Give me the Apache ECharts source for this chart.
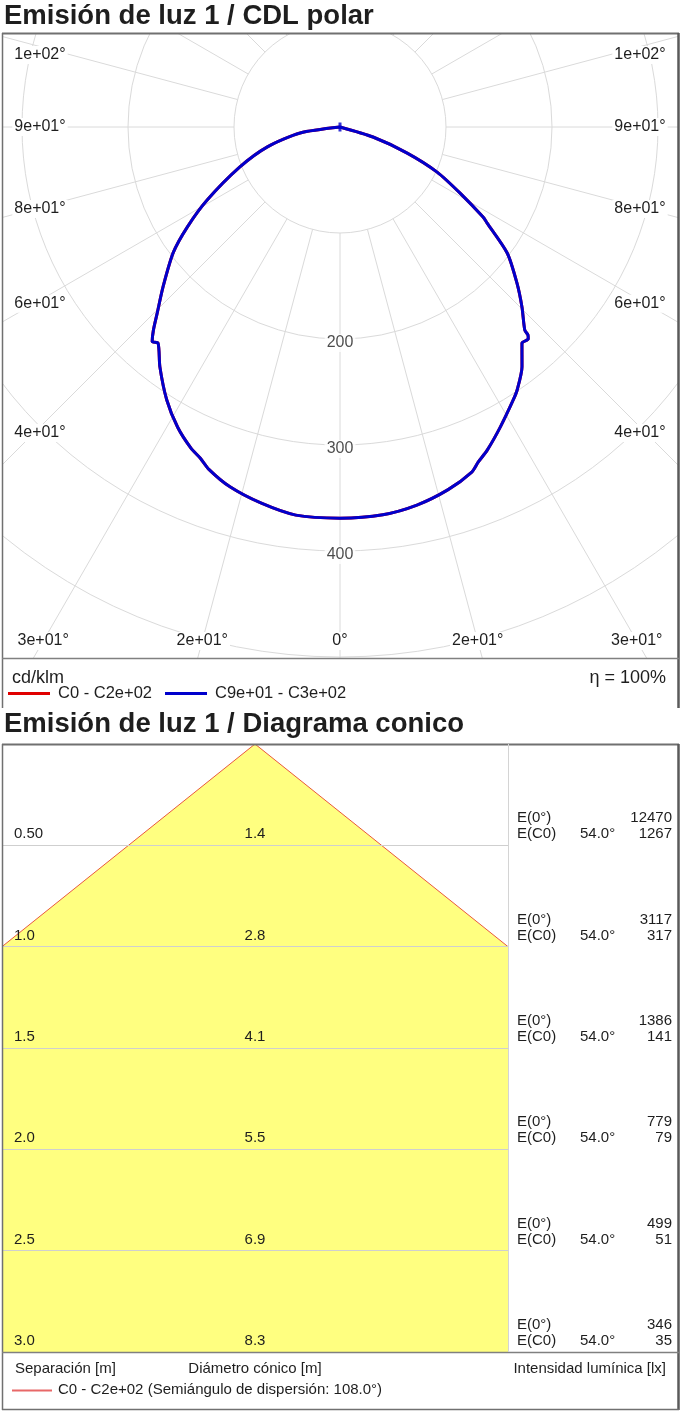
<!DOCTYPE html>
<html><head><meta charset="utf-8">
<script src="https://cdn.jsdelivr.net/npm/echarts/dist/echarts.min.js"></script>
<style>html,body{margin:0;padding:0;background:#fff}#c{width:681px;height:1422px}</style>
</head><body><div id="c"></div>
<script>
// ---------------- DATA ----------------
// Polar curve, C90 - C270 plane: gamma (deg from nadir) and intensity (cd/klm)
const leftGamma  = [90, 81.5, 74.7, 68.2, 61.2, 56.8, 53.0, 47.9, 44.5, 42.6, 41.2, 40.1, 36.9, 32.4, 28.4, 24.9, 22.9, 20.9, 17.0, 11.9, 6.5, 0];
const leftI      = [0, 38, 71, 102, 143, 172, 197, 225, 246, 260, 269, 266.5, 283, 305, 322, 334, 339, 346, 355, 362.5, 368.5, 369];
const rightGamma = [0, 6.3, 11.5, 16.6, 20.9, 22.4, 24.5, 28.1, 32.4, 34.0, 37.2, 40.1, 41.6, 42.1, 42.3, 45.3, 48.6, 53.0, 56.9, 57.8, 61.2, 65.1, 68.8, 73.1, 90];
const rightI     = [369, 368, 364, 357, 348.5, 342, 335, 321, 305, 299, 284, 266.5, 267.5, 264.5, 259, 241.5, 222.5, 197.5, 165.5, 159.5, 129, 101, 68, 32.5, 0];
// C0 - C180 plane is hidden under the C90 - C270 curve (identical values)
const seriesNames = ['C0 - C2e+02', 'C9e+01 - C3e+02'];
const seriesColors = ['#e00000', '#0000cc'];
const angleTicks = [0, 15, 30, 45, 60, 75, 90, 105];
const angleTickLabels = ['0°', '2e+01°', '3e+01°', '4e+01°', '6e+01°', '8e+01°', '9e+01°', '1e+02°'];
const ringLabels = [200, 300, 400];
const unitLabel = 'cd/klm';
const etaLabel = 'η = 100%';

// Cone diagram
const heights = [0.5, 1.0, 1.5, 2.0, 2.5, 3.0];
const heightLabels = ['0.50', '1.0', '1.5', '2.0', '2.5', '3.0'];
const diameterLabels = ['1.4', '2.8', '4.1', '5.5', '6.9', '8.3'];
const e0 = [12470, 3117, 1386, 779, 499, 346];
const eC0 = [1267, 317, 141, 79, 51, 35];
const halfAngle = 54.0;
const coneLegend = 'C0 - C2e+02 (Semiángulo de dispersión: 108.0°)';

// ---------------- LAYOUT ----------------
const FONT = '"Liberation Sans", Arial, Helvetica, sans-serif';
const TXT = '#1e1e1e';
const CX = 340, CY = 127, R_IN = 106, R_OUT = 636;
const BOX1 = {x: 2, y: 33, w: 677, div: 658, bottom: 708};
const BOX2 = {x: 2, y: 744, w: 677, div: 1352, bottom: 1410, split: 508};
const GRIDC = '#dadada';

const chart = echarts.init(document.getElementById('c'), null, {renderer: 'canvas', width: 681, height: 1422});

function curve(gs, is, left) {
  return gs.map((g, k) => [is[k], left ? 360 - g : g]);
}
const curveData = curve(leftGamma, leftI, true).concat(curve(rightGamma, rightI, false));

// angle tick labels placed along their spokes, just inside the frame
function labelPos(g, side) {
  const rad = g * Math.PI / 180, s = Math.sin(rad), c = Math.cos(rad);
  if (s > 1e-6 && (c <= 1e-6 || 306 / s < (641 - CY) / c)) {
    return [CX + side * 300, Math.max(55, CY + 306 * c / s)];
  }
  const R = (641 - CY) / c;
  return [CX + side * R * s, 641];
}
const graphics = [];
angleTicks.forEach((g, k) => {
  const sides = g === 0 ? [1] : [-1, 1];
  sides.forEach(sd => {
    const p = labelPos(g, sd);
    graphics.push({type: 'text', zlevel: 0, z: 20, x: p[0], y: p[1],
      style: {text: angleTickLabels[k], fill: TXT, fontSize: 16, fontFamily: FONT,
        align: 'center', verticalAlign: 'middle', textAlign: 'center', textVerticalAlign: 'middle',
        backgroundColor: '#fff', padding: [1, 2]}});
  });
});
// masks hiding the polar grid outside its frame
[[0, 0, 681, BOX1.y], [0, BOX1.div, 681, 1422 - BOX1.div], [0, 0, BOX1.x, 1422], [BOX1.x + BOX1.w, 0, 681, 1422]].forEach(r => {
  graphics.push({type: 'rect', zlevel: 1, z: 0, silent: true, shape: {x: r[0], y: r[1], width: r[2], height: r[3]}, style: {fill: '#fff'}});
});
function txt(text, x, y, size, opts) {
  opts = opts || {};
  graphics.push({type: 'text', zlevel: 2, z: 30, x: x, y: y,
    style: {text: text, fill: TXT, fontSize: size, fontFamily: FONT, fontWeight: opts.bold ? 'bold' : 'normal',
      align: opts.align || 'left', verticalAlign: 'middle', textAlign: opts.align || 'left', textVerticalAlign: 'middle'}});
}
function line(x1, y1, x2, y2, color, w) {
  graphics.push({type: 'line', zlevel: 2, z: 25, silent: true, shape: {x1: x1, y1: y1, x2: x2, y2: y2}, style: {stroke: color, lineWidth: w}});
}
// titles
txt('Emisión de luz 1 / CDL polar', 4, 16, 27.5, {bold: true});
txt('Emisión de luz 1 / Diagrama conico', 4, 724, 27.5, {bold: true});
// frame 1
const BC = '#707070';
line(BOX1.x + 0.5, BOX1.y, BOX1.x + 0.5, BOX1.bottom, BC, 1.5);
line(BOX1.x, BOX1.y + 0.5, BOX1.x + BOX1.w, BOX1.y + 0.5, BC, 2);
line(BOX1.x + BOX1.w - 0.5, BOX1.y, BOX1.x + BOX1.w - 0.5, BOX1.bottom, '#5a5a5a', 2.5);
line(BOX1.x, BOX1.div + 0.5, BOX1.x + BOX1.w, BOX1.div + 0.5, '#808080', 1.5);
txt(unitLabel, 12, 678, 18);
txt(etaLabel, 666, 678, 18, {align: 'right'});
// frame 2
line(BOX2.x + 0.5, BOX2.y, BOX2.x + 0.5, BOX2.bottom, BC, 1.5);
line(BOX2.x, BOX2.y + 0.5, BOX2.x + BOX2.w, BOX2.y + 0.5, BC, 2);
line(BOX2.x + BOX2.w - 0.5, BOX2.y, BOX2.x + BOX2.w - 0.5, BOX2.bottom, '#5a5a5a', 2.5);
line(BOX2.x, BOX2.bottom - 0.5, BOX2.x + BOX2.w, BOX2.bottom - 0.5, BC, 1.5);
line(BOX2.x, BOX2.div + 0.5, BOX2.x + BOX2.w, BOX2.div + 0.5, '#808080', 1.5);
line(BOX2.split + 0.5, BOX2.y, BOX2.split + 0.5, BOX2.div, '#d4d4d4', 1);
txt('Separación [m]', 15, 1369, 15);
txt('Diámetro cónico [m]', 255, 1369, 15, {align: 'center'});
txt('Intensidad lumínica [lx]', 666, 1369, 15, {align: 'right'});
line(12, 1390.5, 52, 1390.5, '#e86868', 2);
txt(coneLegend, 58, 1390, 15);

const tanA = Math.tan(halfAngle * Math.PI / 180);
const xHalf = heights[1] * tanA;
const hiddenAxis = {axisLine: {show: false}, axisTick: {show: false}, axisLabel: {show: false}, splitLine: {show: false}, splitArea: {show: false}};

const option = {
  animation: false,
  backgroundColor: '#fff',
  textStyle: {fontFamily: FONT},
  polar: [{center: [CX, CY], radius: [R_IN, R_OUT]}, {center: [CX, CY], radius: [0, R_OUT]}],
  angleAxis: [
    {polarIndex: 0, type: 'value', min: 0, max: 360, interval: 15, startAngle: -90, clockwise: false,
      axisLine: {show: false}, axisTick: {show: false}, axisLabel: {show: false},
      splitLine: {show: true, lineStyle: {color: GRIDC, width: 1}}},
    Object.assign({polarIndex: 1, type: 'value', min: 0, max: 360, interval: 15, startAngle: -90, clockwise: false}, hiddenAxis)
  ],
  radiusAxis: [
    {polarIndex: 0, type: 'value', min: 100, max: 600, interval: 100,
      axisLine: {show: false}, axisTick: {show: false}, axisLabel: {show: false},
      splitLine: {show: true, lineStyle: {color: GRIDC, width: 1}}},
    Object.assign({polarIndex: 1, type: 'value', min: 0, max: 600, interval: 100}, hiddenAxis)
  ],
  grid: {left: BOX2.x, top: BOX2.y, width: BOX2.split - BOX2.x, height: BOX2.div - BOX2.y, zlevel: 2, show: false},
  xAxis: {type: 'value', min: -xHalf, max: xHalf, show: false, zlevel: 2},
  yAxis: {type: 'value', inverse: true, min: 0, max: heights[heights.length - 1], interval: 0.5, zlevel: 2, z: 5,
    axisLine: {show: false}, axisTick: {show: false}, axisLabel: {show: false},
    splitLine: {show: true, lineStyle: {color: '#cfcfcf', width: 1}}},
  legend: {data: seriesNames, left: 8, top: 685, padding: 0, icon: 'rect', itemWidth: 42, itemHeight: 3, itemGap: 13,
    zlevel: 2, z: 30, textStyle: {fontSize: 16.5, color: TXT, fontFamily: FONT, padding: [0, 0, 0, 3]}},
  graphic: {elements: graphics},
  series: [
    {name: seriesNames[0], type: 'line', coordinateSystem: 'polar', polarIndex: 1, data: curveData, showSymbol: false, clip: false,
      smooth: 0.25, lineStyle: {color: seriesColors[0], width: 3}, itemStyle: {color: seriesColors[0]}, z: 3},
    {name: seriesNames[1], type: 'line', coordinateSystem: 'polar', polarIndex: 1, data: curveData, showSymbol: false, clip: false,
      smooth: 0.25, lineStyle: {color: seriesColors[1], width: 3}, itemStyle: {color: seriesColors[1]}, z: 4},
    {type: 'scatter', coordinateSystem: 'polar', polarIndex: 1, data: [[0, 90]], symbol: 'rect', symbolSize: [3, 9], z: 5,
      itemStyle: {color: seriesColors[1]}, silent: true},
    {type: 'scatter', coordinateSystem: 'polar', polarIndex: 1, data: ringLabels.map(v => [v, 0]), symbolSize: 1, z: 6, silent: true,
      itemStyle: {color: 'rgba(0,0,0,0)'},
      label: {show: true, position: 'inside', offset: [0, 4], formatter: p => String(p.value[0]), fontSize: 16, color: TXT,
        fontFamily: FONT, backgroundColor: '#fff', padding: [1, 2]}},
    {type: 'custom', coordinateSystem: 'cartesian2d', zlevel: 2, z: 2, clip: true, silent: true, data: [[0, 0]],
      renderItem: function (params, api) {
        const H = heights[heights.length - 1];
        const a = api.coord([0, 0]), l = api.coord([-H * tanA, H]), r = api.coord([H * tanA, H]);
        return {type: 'group', children: [
          {type: 'polygon', shape: {points: [a, l, r]}, style: {fill: '#ffff80'}},
          {type: 'polyline', shape: {points: [l, a, r]}, style: {stroke: '#e8583c', lineWidth: 1, fill: null}}
        ]};
      }},
    {type: 'custom', coordinateSystem: 'cartesian2d', zlevel: 2, z: 10, clip: false, silent: true,
      data: heights.map(h => [0, h]),
      renderItem: function (params, api) {
        const i = params.dataIndex;
        const cs = params.coordSys;
        const p = api.coord([0, api.value(1)]);
        const right = cs.x + cs.width;
        const mk = (text, x, y, align) => ({type: 'text', x: x, y: y,
          style: {text: text, fill: TXT, fontSize: 15, fontFamily: FONT, align: align, verticalAlign: 'middle',
            textAlign: align, textVerticalAlign: 'middle'}});
        return {type: 'group', children: [
          mk(heightLabels[i], cs.x + 12, p[1] - 11, 'left'),
          mk(diameterLabels[i], p[0], p[1] - 11, 'center'),
          mk('E(0°)', right + 9, p[1] - 27, 'left'),
          mk('E(C0)', right + 9, p[1] - 11, 'left'),
          mk(halfAngle.toFixed(1) + '°', right + 72, p[1] - 11, 'left'),
          mk(String(e0[i]), right + 164, p[1] - 27, 'right'),
          mk(String(eC0[i]), right + 164, p[1] - 11, 'right')
        ]};
      }}
  ]
};
chart.setOption(option);
</script>
</body></html>
